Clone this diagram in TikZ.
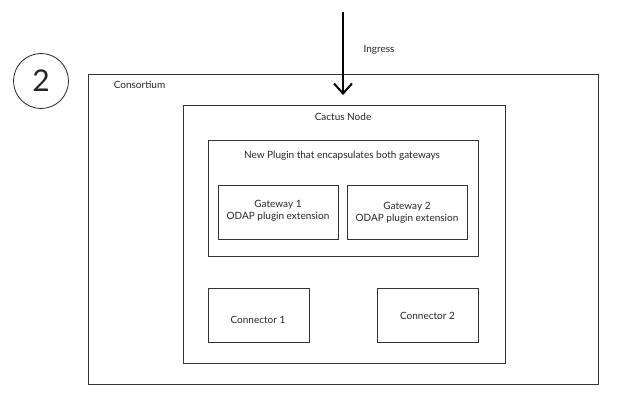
\documentclass[tikz,border=0pt]{standalone}
\usepackage{fontspec}
\setmainfont{Lato}
\usetikzlibrary{arrows.meta}
\begin{document}
\begin{tikzpicture}[x=1pt,y=-1pt,
  box/.style={draw=black!80,line width=0.9pt,inner sep=0pt,outer sep=0pt},
  lbl/.style={font=\fontsize{10}{12}\selectfont,text=black!85,inner sep=0pt,align=center}]
\useasboundingbox (0,0) rectangle (618,401);
\node[draw=black!85,line width=0.8pt,circle,minimum size=55pt,inner sep=0pt,font=\fontsize{30}{30}\selectfont,text=black!85] (num) at (41,81) {2};
\node[box,minimum width=510pt,minimum height=310pt] (cons) at (343,229) {};
\node[box,minimum width=322pt,minimum height=258pt] (cactus) at (344,234) {};
\node[box,minimum width=270pt,minimum height=116pt] (plugin) at (343,198) {};
\node[box,minimum width=120pt,minimum height=54pt] (gw1) at (278,212) {};
\node[box,minimum width=120pt,minimum height=54pt] (gw2) at (407,212) {};
\node[box,minimum width=101pt,minimum height=54pt] (con1) at (258.5,315) {};
\node[box,minimum width=101pt,minimum height=54pt] (con2) at (428,315) {};
\node[lbl] (tcons) at (139.5,85) {Consortium};
\node[lbl] (tcactus) at (343,117) {Cactus Node};
\node[lbl] (tplugin) at (342,156) {New Plugin that encapsulates both gateways};
\node[lbl] (tgw1) at (278,211) {Gateway 1\\ODAP plugin extension};
\node[lbl] (tgw2) at (407,212.5) {Gateway 2\\ODAP plugin extension};
\node[lbl] (tcon1) at (258,320) {Connector 1};
\node[lbl] (tcon2) at (427.5,316) {Connector 2};
\node[lbl] (ting) at (379,50) {Ingress};
\coordinate (ingtop) at (343,12);
\coordinate (ingend) at (343,95);
\draw[line width=2pt,-{Straight Barb[length=10pt,width=18pt,line width=2pt]}] (ingtop) -- (ingend);
\end{tikzpicture}
\end{document}
